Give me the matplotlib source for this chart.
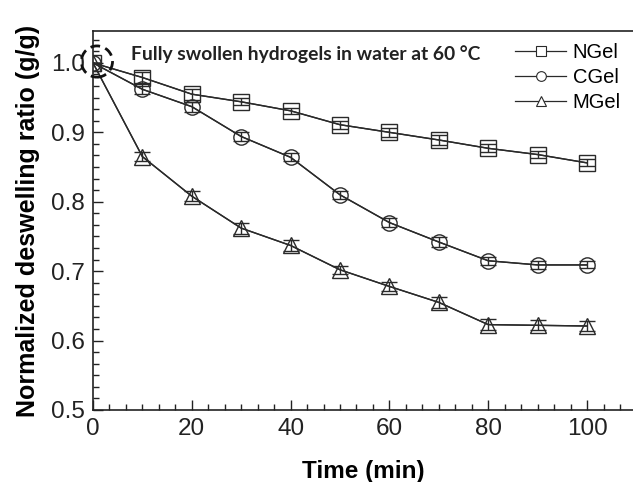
import numpy as np
import matplotlib.pyplot as plt
from matplotlib.patches import Ellipse
from matplotlib.ticker import MultipleLocator, AutoMinorLocator

# Data
time = [0, 10, 20, 30, 40, 50, 60, 70, 80, 90, 100]
ngel = [1.0, 0.979, 0.955, 0.944, 0.931, 0.911, 0.900, 0.889, 0.877, 0.868, 0.856]
ngel_err = [0, 0.008, 0.008, 0.005, 0.004, 0.006, 0.006, 0.007, 0.006, 0.005, 0.005]
cgel = [1.0, 0.962, 0.937, 0.894, 0.864, 0.810, 0.770, 0.742, 0.715, 0.709, 0.709]
cgel_err = [0, 0.007, 0.007, 0.006, 0.006, 0.006, 0.006, 0.007, 0.006, 0.006, 0.005]
mgel = [1.0, 0.865, 0.808, 0.762, 0.737, 0.702, 0.678, 0.655, 0.623, 0.622, 0.621]
mgel_err = [0, 0.007, 0.007, 0.008, 0.008, 0.006, 0.007, 0.008, 0.008, 0.007, 0.007]
labels = ['NGel', 'CGel', 'MGel']

plt.rcParams['font.family'] = ['Liberation Sans', 'DejaVu Sans']

fig = plt.figure(figsize=(6.33, 4.82), dpi=100)
ax = fig.add_axes([93/633, 1 - 410/482, 540/633, 379/482])

series = [(ngel, ngel_err, 's'), (cgel, cgel_err, 'o'), (mgel, mgel_err, '^')]
handles = []
for (vals, err, mk), lab in zip(series, labels):
    ax.errorbar(time, vals, yerr=err, color='#2a2a2a', lw=1.0, elinewidth=1.0,
                capsize=6, capthick=1.0, marker='none', zorder=2)
    ax.plot(time, vals, color='#2a2a2a', lw=1.0, marker=mk, markersize=11,
            markerfacecolor='none', markeredgecolor='#2a2a2a',
            markeredgewidth=1.0, zorder=3)
    h, = ax.plot([], [], color='#2a2a2a', lw=0.9, marker=mk, markersize=7,
                 markerfacecolor='white', markeredgewidth=0.8, label=lab)
    handles.append(h)

# dashed circle around the starting point
ax.add_patch(Ellipse((0.8, 1.002), 6.3, 0.045, fill=False, ec='#111111',
                     lw=2.0, ls=(0, (3.5, 2)), clip_on=False, zorder=4))

ax.text(7.7, 1.013, 'Fully swollen hydrogels in water at 60 \u00b0C',
        family=['Lato', 'DejaVu Sans'], fontweight='bold', fontsize=13.9,
        color='#222222', va='center', ha='left')

ax.set_xlim(0, 109.3)
ax.set_ylim(0.5, 1.046)
ax.xaxis.set_major_locator(MultipleLocator(20))
ax.xaxis.set_minor_locator(AutoMinorLocator(6))
ax.yaxis.set_major_locator(MultipleLocator(0.1))
ax.yaxis.set_minor_locator(AutoMinorLocator(6))
ax.yaxis.set_major_formatter(plt.FormatStrFormatter('%.1f'))
ax.tick_params(which='both', direction='in', labelsize=17.5, width=1.0,
               colors='#222222', pad=6)
ax.tick_params(which='major', length=7)
ax.tick_params(which='minor', length=4)
ax.spines['right'].set_visible(False)
for s in ['left', 'bottom', 'top']:
    ax.spines[s].set_linewidth(1.2)
    ax.spines[s].set_color('#222222')

ax.set_xlabel('Time (min)', fontsize=17.5, fontweight='bold', labelpad=14)
ax.set_ylabel('Normalized deswelling ratio (g/g)', fontsize=18,
              fontweight='bold', labelpad=8)

ax.legend(handles=handles, loc='upper right', bbox_to_anchor=(1.0, 1.0),
          frameon=False, fontsize=14.5, handlelength=2.5, handletextpad=0.35,
          labelspacing=0.3, borderaxespad=0.2)

fig.savefig('out.png', dpi=100)
